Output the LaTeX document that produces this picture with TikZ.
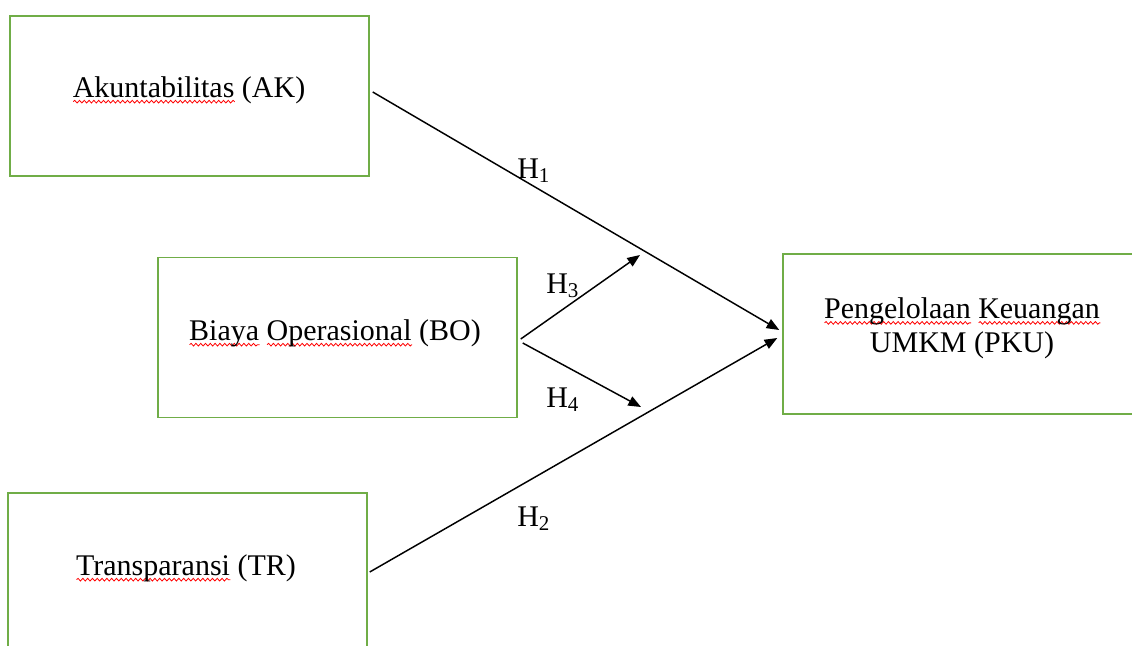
\documentclass[tikz,border=0pt]{standalone}
\usepackage{fontspec}
\setmainfont{Liberation Serif}
\usetikzlibrary{positioning,arrows.meta,decorations.pathmorphing}
\definecolor{boxgreen}{RGB}{112,173,71}
% red spell-check wave under a word
\newcommand\redwave[1]{\setbox0\hbox{#1}\leavevmode\rlap{\tikz[x=1pt,y=1pt,baseline=0pt]\draw[red,line width=0.6pt,decorate,decoration={snake,amplitude=1pt,segment length=3.6pt}] (0,-3.5) -- (\the\wd0,-3.5);}\box0\relax}
\tikzset{v/.style={draw=boxgreen,line width=1.1pt,minimum width=269.25pt,minimum height=120pt,inner sep=0pt},
            t/.style={font=\fontsize{22.5}{25.5}\selectfont,inner sep=0pt,align=center},
            arr/.style={-{Triangle[length=9.5pt,width=7.5pt]},line width=1.1pt}}

\begin{document}
\begin{tikzpicture}[x=0.75pt,y=-0.75pt]
\useasboundingbox (0,0) rectangle (1132,646);
\clip (0,0) rectangle (1132,646);
\node[v] at (189.5,96)(ak){};
\node[v] at (337.5,337.5)(bo){};
\node[v] at (187.5,573)(tr){};
\node[v] at (962.5,334)(pku){};
\node[t,anchor=base] at (189,97)(akt){\redwave{Akuntabilitas} (AK)};
\node[t,anchor=base] at (335,340)(bot){\redwave{Biaya} \redwave{Operasional} (BO)};
\node[t,anchor=base] at (186,575)(trt){\redwave{Transparansi} (TR)};
\node[t] at (962,328)(pkut){\redwave{Pengelolaan} \redwave{Keuangan}\\UMKM (PKU)};
\node[t,anchor=base west] at (517,178)(h1){H\textsubscript{1}};
\node[t,anchor=base west] at (517,526)(h2){H\textsubscript{2}};
\node[t,anchor=base west] at (546,293)(h3){H\textsubscript{3}};
\node[t,anchor=base west] at (546,407)(h4){H\textsubscript{4}};
\coordinate (pkuin1) at ([shift={(-3,-4)}]pku.west);
\coordinate (pkuin2) at ([shift={(-5,4)}]pku.west);
\coordinate (h3end) at (640,255);
\coordinate (h4end) at (641,407);
\draw[arr] ([shift={(3,-4)}]ak.east) -- (pkuin1);
\draw[arr] ([shift={(2,-1)}]tr.east) -- (pkuin2);
\draw[arr] ([shift={(3,1.5)}]bo.east) -- (h3end);
\draw[arr] ([shift={(5,5.5)}]bo.east) -- (h4end);
\end{tikzpicture}
\end{document}
